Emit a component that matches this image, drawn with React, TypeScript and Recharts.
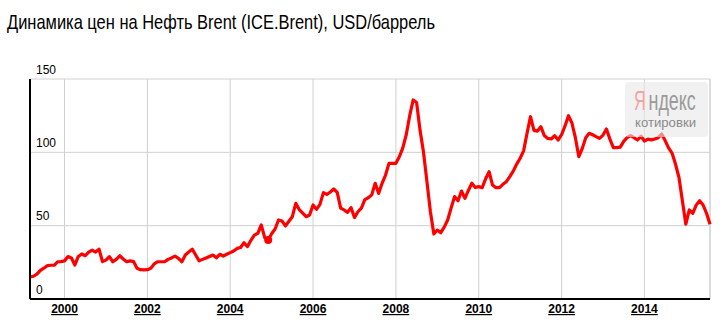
import React from "react";
import { LineChart, Line, XAxis, YAxis, CartesianGrid, ReferenceLine } from "recharts";

const FONT = "'Liberation Sans', Arial, sans-serif";

// monthly Brent, USD per barrel (first month: March 1999)
const START_YEAR = 1999;
const START_MONTH = 3;
const prices1999 = [15, 15.5, 17, 19.5, 21, 22.7, 23, 23, 25.4, 25.5];
const prices2000 = [26, 28.9, 28, 23.2, 29, 30.7, 29.5, 32, 33.4, 32, 34, 25.5];
const prices2001 = [26.5, 28.9, 25.4, 27, 29.5, 27.3, 25.4, 26, 25.5, 21, 20, 19.8];
const prices2002 = [20, 20.9, 24, 25.4, 25.4, 25.4, 27, 28, 29.3, 27.7, 25.4, 30];
const prices2003 = [32, 34, 30, 26, 27, 28, 29, 30, 28.1, 30.5, 29.3, 30.5];
const prices2004 = [31.6, 32.7, 34.5, 35.1, 38.4, 35.7, 40, 43.6, 44.8, 50.5, 41.8, 40.2];
const prices2005 = [44.5, 47.7, 53.9, 53.2, 49.8, 53, 56.1, 65.2, 61, 58.5, 56.1, 57.3];
const prices2006 = [64.1, 61.1, 64.5, 72.5, 71.3, 73, 75, 72.7, 62, 60.7, 59.1, 62.3];
const prices2007 = [55.5, 59.5, 62, 67.8, 69, 71, 78.9, 72, 78.9, 84.5, 92.5, 92.5];
const prices2008 = [92.5, 97, 103, 112, 125, 135.7, 134, 115, 100, 80, 59.5, 44.3];
const prices2009 = [47, 45.2, 49, 53.9, 62, 69.8, 67, 73.6, 68.6, 74, 78.9, 76];
const prices2010 = [76.6, 75.9, 82, 86.8, 77.7, 75.9, 75.9, 78.2, 80, 83.4, 87.2, 92];
const prices2011 = [96, 101, 113, 124.3, 115, 114.5, 117.5, 111.4, 109.5, 109.1, 111.4, 108.4];
const prices2012 = [112, 118, 125, 120, 110, 97, 102.7, 110, 113, 112, 110.7, 109.5];
const prices2013 = [111.8, 115.9, 109, 103.2, 103.2, 103.6, 107.5, 110, 111.4, 110, 108.4, 111];
const prices2014 = [107.7, 109, 108.5, 109.1, 110, 112.5, 108, 103, 99.5, 92, 83, 67];
const prices2015 = [51, 60.7, 58.4, 64, 67, 64.1, 58.4, 51];

const yearTicks = [2000, 2002, 2004, 2006, 2008, 2010, 2012, 2014];
const priceTicks = [0, 50, 100, 150];
const markedMonth = { year: 2004, month: 12 };

const TITLE = "Динамика цен на Нефть Brent (ICE.Brent), USD/баррель";

const prices = [
  ...prices1999, ...prices2000, ...prices2001, ...prices2002, ...prices2003,
  ...prices2004, ...prices2005, ...prices2006, ...prices2007, ...prices2008,
  ...prices2009, ...prices2010, ...prices2011, ...prices2012, ...prices2013,
  ...prices2014, ...prices2015,
];

const data = prices.map((v, i) => ({
  t: START_YEAR + (START_MONTH - 1 + i) / 12,
  price: v,
}));

const markedIndex =
  (markedMonth.year - START_YEAR) * 12 + (markedMonth.month - START_MONTH);

const lastT = data[data.length - 1].t;

function YearTick(props: any) {
  const { x, y, payload } = props;
  return (
    <text
      x={x}
      y={y + 14}
      textAnchor="middle"
      fontFamily={FONT}
      fontSize={12}
      fontWeight="bold"
      fill="#000"
      style={{ textDecoration: "underline" }}
    >
      {payload.value}
    </text>
  );
}

// labels sit inside the plot, just above their gridline
function PriceTick(props: any) {
  const { y, payload } = props;
  return (
    <text x={36} y={y - 5.5} textAnchor="start" fontFamily={FONT} fontSize={12} fill="#000">
      {payload.value}
    </text>
  );
}

function renderDot(p: any) {
  if (p.index !== markedIndex) return <g key={p.index} />;
  return <circle key={p.index} cx={p.cx} cy={p.cy} r={4} fill="#ff0000" />;
}

export default function App() {
  return (
    <div style={{ position: "relative", width: 726, height: 331, background: "#fff" }}>
      <style>{"body{margin:0}"}</style>
      <LineChart
        width={726}
        height={331}
        data={data}
        margin={{ top: 79, right: 16, bottom: 0, left: 30 }}
      >
        <CartesianGrid stroke="#d0d0d0" strokeWidth={1} />
        <ReferenceLine x={lastT} stroke="#d0d0d0" />
        <XAxis
          dataKey="t"
          type="number"
          domain={["dataMin", "dataMax"]}
          ticks={yearTicks}
          tick={<YearTick />}
          tickLine={false}
          tickSize={0}
          tickMargin={0}
          height={32}
          axisLine={{ stroke: "#000", strokeWidth: 2 }}
        />
        <YAxis
          type="number"
          domain={[0, 150]}
          ticks={priceTicks}
          tick={<PriceTick />}
          tickLine={false}
          mirror
          width={40}
          interval={0}
          axisLine={{ stroke: "#000", strokeWidth: 2 }}
        />
        <Line
          type="linear"
          dataKey="price"
          stroke="#ff0000"
          strokeWidth={3.2}
          strokeLinejoin="round"
          dot={renderDot}
          activeDot={false}
          isAnimationActive={false}
        />
      </LineChart>
      <svg
        width={726}
        height={331}
        style={{ position: "absolute", left: 0, top: 0, pointerEvents: "none" }}
      >
        <text
          x={7}
          y={29}
          fontFamily={FONT}
          fontSize={21}
          fill="#000"
          textLength={428}
          lengthAdjust="spacingAndGlyphs"
        >
          {TITLE}
        </text>
        {/* yandex watermark */}
        <rect x={625} y={82} width={83} height={55} rx={4} fill="rgba(232,232,232,0.6)" />
        <text transform="translate(634,110) scale(0.58,1)" fontFamily={FONT} fontSize={28} fill="#f4a3a3">
          Я
        </text>
        <text transform="translate(648.5,110) scale(0.64,1)" fontFamily={FONT} fontSize={28} fill="#9a9a9a">
          ндекс
        </text>
        <text
          x={635}
          y={127}
          fontFamily={FONT}
          fontSize={12}
          fill="#8a8a8a"
          textLength={61}
          lengthAdjust="spacingAndGlyphs"
        >
          котировки
        </text>
      </svg>
    </div>
  );
}
